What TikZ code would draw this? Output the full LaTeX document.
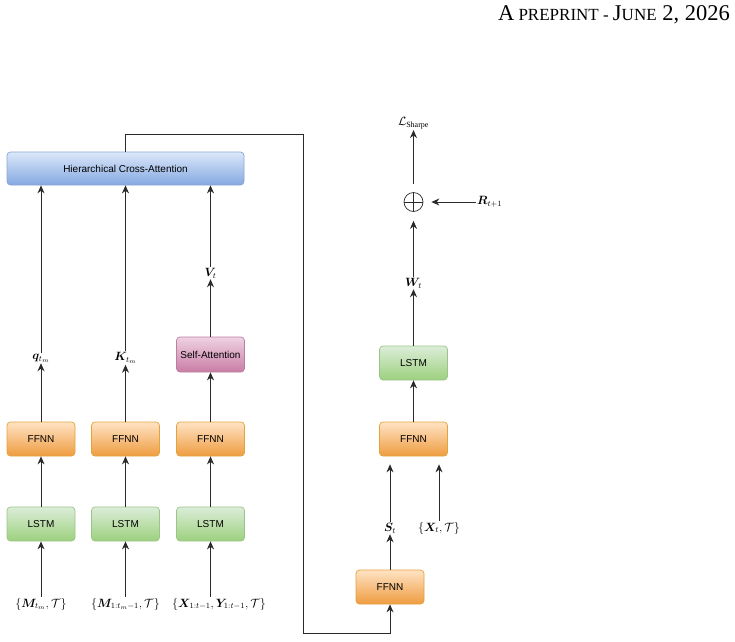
\documentclass[tikz,border=0pt]{standalone}
\usepackage{amsmath}
\usepackage{bm}
\usepackage{fontspec}
\setmainfont{Liberation Serif}
\newfontfamily\boxfont{Liberation Sans}
\usetikzlibrary{arrows.meta}
\definecolor{ffnnT}{HTML}{FFE3C4}
\definecolor{ffnnB}{HTML}{EE9C40}
\definecolor{ffnnD}{HTML}{E3A23A}
\definecolor{lstmT}{HTML}{DCEDD8}
\definecolor{lstmB}{HTML}{9CD07E}
\definecolor{lstmD}{HTML}{9CC48A}
\definecolor{hcaT}{HTML}{DCE8FA}
\definecolor{hcaB}{HTML}{84A8E0}
\definecolor{hcaD}{HTML}{8BA6CF}
\definecolor{saT}{HTML}{EFD2E2}
\definecolor{saB}{HTML}{C97DA6}
\definecolor{saD}{HTML}{BA7FA2}
\definecolor{lineC}{HTML}{2A2A2A}
\tikzset{
  boxbase/.style={rounded corners=3.5pt, minimum width=68pt, minimum height=34pt, inner sep=0pt,
    font=\boxfont\fontsize{10}{12}\selectfont, line width=0.7pt},
  ffnnbox/.style={boxbase, draw=ffnnD, top color=ffnnT, bottom color=ffnnB},
  lstmbox/.style={boxbase, draw=lstmD, top color=lstmT, bottom color=lstmB},
  hcabox/.style={boxbase, minimum width=237pt, minimum height=33pt, draw=hcaD, top color=hcaT, bottom color=hcaB},
  sabox/.style={boxbase, minimum height=35pt, draw=saD, top color=saT, bottom color=saB},
  lbl/.style={inner sep=1pt, font=\fontsize{12}{14}\selectfont},
  inlbl/.style={inner sep=1pt, font=\fontsize{11.5}{14}\selectfont},
  arr/.style={draw=lineC, line width=0.9pt, -{Stealth[length=8pt,width=7pt]}},
}
\begin{document}
\begin{tikzpicture}[x=1pt,y=-1pt]
\useasboundingbox (0,0) rectangle (735,641);
% header
\node[anchor=base east, inner sep=0pt] (hdr) at (730,20)
  {{\fontsize{22.5}{22}\selectfont A}{\fontsize{17}{17}\selectfont\ PREPRINT - }{\fontsize{22.5}{22}\selectfont J}{\fontsize{17}{17}\selectfont UNE}{\fontsize{22.5}{22}\selectfont\ 2, 2026}};
% left part
\node[hcabox] (hca) at (125.5,168.5) {Hierarchical Cross-Attention};
\node[ffnnbox] (f1) at (41,439) {FFNN};
\node[ffnnbox] (f2) at (125.5,439) {FFNN};
\node[ffnnbox] (f3) at (210.5,439) {FFNN};
\node[lstmbox] (l1) at (41,524) {LSTM};
\node[lstmbox] (l2) at (125.5,524) {LSTM};
\node[lstmbox] (l3) at (210.5,524) {LSTM};
\node[sabox] (sa) at (210.5,354.5) {Self-Attention};
\node[lbl] (q) at (41,358) {$\bm{q}_{t_m}$};
\node[lbl] (k) at (125.5,358) {$\bm{K}_{t_m}$};
\node[lbl] (v) at (210.5,273) {$\bm{V}_{t}$};
\node[inlbl] (i1) at (41,604) {$\{\bm{M}_{t_m},\mathcal{T}\}$};
\node[inlbl] (i2) at (125.5,604) {$\{\bm{M}_{1:t_m-1},\mathcal{T}\}$};
\node[inlbl, anchor=west] (i3) at (171,604) {$\{\bm{X}_{1:t-1},\bm{Y}_{1:t-1},\mathcal{T}\}$};
% right part
\node[ffnnbox] (fb) at (390,587) {FFNN};
\node[ffnnbox] (fr) at (413.5,439) {FFNN};
\node[lstmbox] (lr) at (413.5,363) {LSTM};
\node[lbl] (s) at (390,528) {$\bm{S}_{t}$};
\node[lbl] (x) at (439,528) {$\{\bm{X}_{t},\mathcal{T}\}$};
\node[lbl] (w) at (413.5,283) {$\bm{W}_{t}$};
\node[circle, draw=lineC, line width=0.7pt, minimum size=19pt, inner sep=0pt,
  path picture={\draw[lineC, line width=0.7pt] (path picture bounding box.north) -- (path picture bounding box.south)
     (path picture bounding box.west) -- (path picture bounding box.east);}] (op) at (413.5,202) {};
\node[lbl] (loss) at (413.5,123) {$\mathcal{L}_{\text{Sharpe}}$};
\node[lbl, anchor=west] (r) at (476,202) {$\bm{R}_{t+1}$};
\coordinate (c1) at (303,134);
\coordinate (c2) at (303,633);
% connectors left
\draw[arr] (i1.north) -- (l1.south);
\draw[arr] (i2.north) -- (l2.south);
\draw[arr] (l3.south |- i3.north) -- (l3.south);
\draw[arr] (l1) -- (f1);
\draw[arr] (l2) -- (f2);
\draw[arr] (l3) -- (f3);
\draw[arr] (f1) -- (q);
\draw[arr] (f2) -- (k);
\draw[arr] (f3) -- (sa);
\draw[arr] (sa) -- (v);
\draw[arr] (q.north) -- (q.north |- hca.south);
\draw[arr] (k.north) -- (k.north |- hca.south);
\draw[arr] (v.north) -- (v.north |- hca.south);
% feedback
\draw[arr] (hca.north) |- (c1) -- (c2) -| (fb.south);
% connectors right
\draw[arr] (fb.north) -- (s.south);
\draw[arr, shorten >=8pt] (s.north) -- (s.north |- fr.south);
\draw[arr, shorten >=8pt] (x.north) -- (x.north |- fr.south);
\draw[arr] (fr) -- (lr);
\draw[arr] (lr) -- (w);
\draw[arr, shorten >=9pt] (w) -- (op);
\draw[arr, shorten <=8pt] (op) -- (loss);
\draw[arr, shorten >=8pt] (r.west) -- (op.east);
\end{tikzpicture}
\end{document}
